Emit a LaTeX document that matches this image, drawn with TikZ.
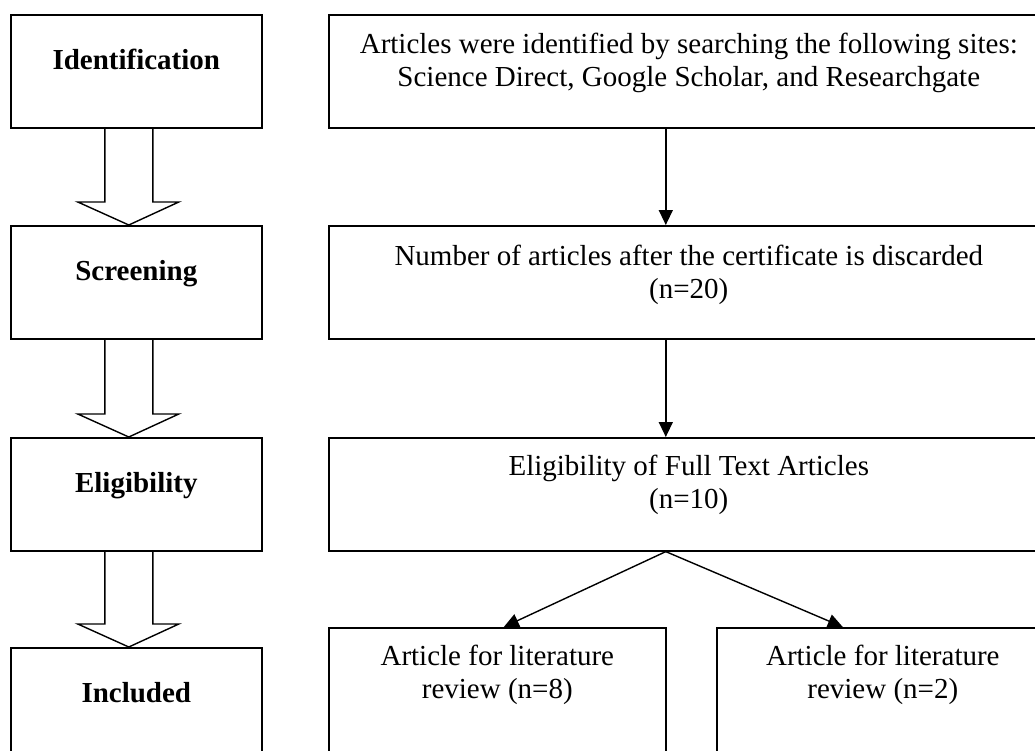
\documentclass[tikz,border=0pt]{standalone}
\usepackage{fontspec}
\setmainfont{Liberation Serif}
\usetikzlibrary{arrows.meta,calc}
\begin{document}
\begin{tikzpicture}[x=1pt,y=-1pt,
  box/.style={draw,line width=1.6pt,inner sep=0pt,anchor=north west},
  lab/.style={font=\fontsize{29}{33}\selectfont\bfseries,anchor=base,inner sep=0pt},
  txt/.style={font=\fontsize{29}{33}\selectfont,align=center,anchor=base,inner sep=0pt},
  arr/.style={line width=1.4pt,-{Triangle[length=15pt,width=14pt]}},
  hollow/.style={line width=1.4pt,line join=miter}]
\useasboundingbox (0,0) rectangle (1035,750);
\fill[white] (0,0) rectangle (1035,750);
\clip (0,0) rectangle (1035,750);
% left column
\node[box,minimum width=251pt,minimum height=113pt] (id) at (10,14) {};
\node[box,minimum width=251pt,minimum height=113pt] (sc) at (10,225) {};
\node[box,minimum width=251pt,minimum height=113pt] (el) at (10,437) {};
\node[box,minimum width=251pt,minimum height=150pt] (in) at (10,647) {};
\node[lab] (idl) at ($(id.north)+(0,55)$) {Identification};
\node[lab] (scl) at ($(sc.north)+(0,55)$) {Screening};
\node[lab] (ell) at ($(el.north)+(0,55)$) {Eligibility};
\node[lab] (inl) at ($(in.north)+(0,55)$) {Included};
% right column
\node[box,minimum width=720pt,minimum height=113pt] (r1) at (328,14) {};
\node[box,minimum width=720pt,minimum height=113pt] (r2) at (328,225) {};
\node[box,minimum width=720pt,minimum height=113pt] (r3) at (328,437) {};
\node[box,minimum width=337pt,minimum height=160pt] (b1) at (328,627) {};
\node[box,minimum width=332pt,minimum height=160pt] (b2) at (716,627) {};
\node[txt] (t1) at ($(r1.north)+(0,72)$) {Articles were identified by searching the following sites:\\Science Direct, Google Scholar, and Researchgate};
\node[txt] (t2) at ($(r2.north)+(0,73)$) {Number of articles after the certificate is discarded\\(n=20)};
\node[txt] (t3) at ($(r3.north)+(0,71)$) {Eligibility of Full Text Articles\\(n=10)};
\node[txt] (t4) at ($(b1.north)+(0,71)$) {Article for literature\\review (n=8)};
\node[txt] (t5) at ($(b2.north)+(0,71)$) {Article for literature\\review (n=2)};
% connectors
\draw[arr] ([xshift=-23pt]r1.south) -- ([xshift=-23pt]r2.north);
\draw[arr] ([xshift=-23pt]r2.south) -- ([xshift=-23pt]r3.north);
\draw[arr] ([xshift=-23pt]r3.south) -- ([xshift=6.5pt]b1.north);
\draw[arr] ([xshift=-23pt]r3.south) -- ([xshift=-40pt]b2.north);
% hollow arrows
\foreach \a/\b in {id/sc,sc/el,el/in}{
  \draw[hollow] ($(\a.south)+(-31.5,0)$) -- ($(\b.north)+(-31.5,-23)$)
    -- ($(\b.north)+(-58.5,-23)$) -- ($(\b.north)+(-7.5,0)$)
    -- ($(\b.north)+(42.5,-23)$) -- ($(\b.north)+(16.5,-23)$)
    -- ($(\a.south)+(16.5,0)$);
}
\end{tikzpicture}
\end{document}
